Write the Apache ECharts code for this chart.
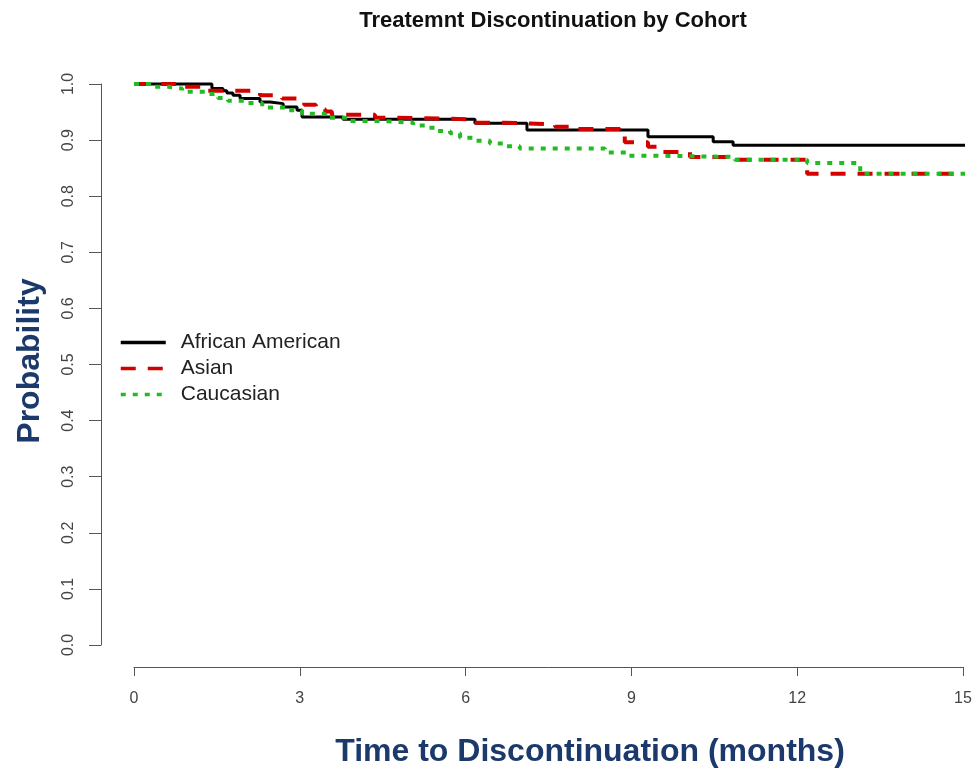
<!DOCTYPE html>
<html>
<head>
<meta charset="utf-8">
<script src="https://cdn.jsdelivr.net/npm/echarts@6/dist/echarts.min.js"></script>
<style>html,body{margin:0;padding:0;background:#fff}#c{width:977px;height:775px}</style>
</head>
<body>
<div id="c"></div>
<script>
// Data (time in months, survival probability)
var seriesNames = ['African American', 'Asian', 'Caucasian'];
var xTicks = [0, 3, 6, 9, 12, 15];
var yTicks = [0.0, 0.1, 0.2, 0.3, 0.4, 0.5, 0.6, 0.7, 0.8, 0.9, 1.0];

var aaTime = [0, 1.41, 1.61, 1.68, 1.79, 1.92, 2.28, 2.46, 2.70, 2.95, 3.04, 3.78, 6.17, 7.11, 9.30, 10.48, 10.84, 15.26];
var aaSurv = [1.0, 0.992, 0.988, 0.984, 0.980, 0.974, 0.968, 0.965, 0.959, 0.953, 0.941, 0.937, 0.930, 0.918, 0.906, 0.897, 0.891, 0.891];

var asTime = [0, 0.89, 1.28, 2.28, 2.68, 3.08, 3.29, 3.46, 3.58, 4.36, 4.72, 6.17, 6.71, 7.62, 7.98, 8.79, 8.88, 9.30, 9.55, 10.06, 10.87, 12.18, 15.26];
var asSurv = [1.0, 0.995, 0.988, 0.980, 0.974, 0.963, 0.955, 0.951, 0.945, 0.940, 0.937, 0.931, 0.928, 0.924, 0.920, 0.914, 0.896, 0.888, 0.879, 0.870, 0.865, 0.840, 0.840];

var caTime = [0, 0.38, 0.62, 0.87, 1.28, 1.52, 1.70, 2.06, 2.32, 2.77, 3.04, 3.46, 3.91, 4.45, 5.05, 5.27, 5.48, 5.72, 5.90, 6.17, 6.44, 6.71, 6.98, 8.52, 8.94, 9.61, 10.87, 12.18, 13.14, 15.26];
var caSurv = [1.0, 0.995, 0.992, 0.986, 0.982, 0.975, 0.970, 0.966, 0.958, 0.953, 0.947, 0.940, 0.934, 0.931, 0.926, 0.922, 0.916, 0.912, 0.904, 0.899, 0.894, 0.889, 0.885, 0.878, 0.872, 0.870, 0.865, 0.859, 0.840, 0.840];

function pairs(t, s) { return t.map(function (v, i) { return [v, s[i]]; }); }

var chart = echarts.init(document.getElementById('c'));
var font = 'Arial, "Liberation Sans", sans-serif';
var tickFont = '"Liberation Sans Narrow", "Arial Narrow", Arial, sans-serif';
var axisCol = '#555';
var navy = '#1b3a6b';

chart.setOption({
  backgroundColor: '#fff',
  animation: false,
  title: {
    text: 'Treatemnt Discontinuation by Cohort',
    left: 548, top: 5, textAlign: 'center',
    textStyle: { fontFamily: font, fontSize: 22, fontWeight: 'bold', color: '#111' }
  },
  legend: {
    orient: 'vertical', left: 114, top: 327,
    itemWidth: 45, itemHeight: 14, itemGap: 5,
    data: seriesNames,
    itemStyle: { opacity: 0 },
    lineStyle: { width: 3.5 },
    textStyle: { fontFamily: font, fontSize: 21, lineHeight: 21, color: '#222', padding: [0, 0, 0, 10] }
  },
  grid: [
    { left: 134, right: 14, top: 84, bottom: 130, containLabel: false },
    { left: 101, width: 1, top: 84, bottom: 130, containLabel: false },
    { left: 134, right: 14, top: 600, bottom: 108, containLabel: false }
  ],
  xAxis: [
    { gridIndex: 0, type: 'value', min: 0, max: 15, interval: 3, show: false },
    { gridIndex: 1, type: 'value', min: 0, max: 1, show: false },
    { gridIndex: 2, type: 'value', min: 0, max: 15, interval: 3, position: 'bottom',
      axisLine: { show: true, lineStyle: { color: axisCol, width: 1 } },
      axisTick: { show: true, length: 9, lineStyle: { color: axisCol } },
      splitLine: { show: false },
      axisLabel: { margin: 24, fontFamily: tickFont, fontSize: 16, color: '#444',
        formatter: function (v) { return xTicks.indexOf(v) >= 0 ? String(v) : ''; } } }
  ],
  yAxis: [
    { gridIndex: 0, type: 'value', min: 0, max: 1, interval: 0.1, show: false },
    { gridIndex: 1, type: 'value', min: 0, max: 1, interval: 0.1, position: 'left',
      axisLine: { show: true, lineStyle: { color: axisCol, width: 1 } },
      axisTick: { show: true, length: 12, lineStyle: { color: axisCol } },
      splitLine: { show: false },
      axisLabel: { margin: 24, rotate: 90, fontFamily: tickFont, fontSize: 16, color: '#444',
        formatter: function (v) { return yTicks[Math.round(v * 10)].toFixed(1); } } },
    { gridIndex: 2, type: 'value', min: 0, max: 1, show: false }
  ],
  graphic: [
    { type: 'text', x: 590, y: 752,
      style: { text: 'Time to Discontinuation (months)', font: 'bold 32px ' + font, fill: navy, align: 'center', verticalAlign: 'middle' } },
    { type: 'text', x: 30, y: 361, rotation: Math.PI / 2,
      style: { text: 'Probability', font: 'bold 32px ' + font, fill: navy, align: 'center', verticalAlign: 'middle' } }
  ],
  series: [
    { name: seriesNames[0], type: 'line', step: 'end', symbol: 'none', clip: false,
      xAxisIndex: 0, yAxisIndex: 0, data: pairs(aaTime, aaSurv), z: 3,
      lineStyle: { color: '#000', width: 3 }, itemStyle: { color: '#000' } },
    { name: seriesNames[1], type: 'line', step: 'end', symbol: 'none', clip: false,
      xAxisIndex: 0, yAxisIndex: 0, data: pairs(asTime, asSurv), z: 4,
      lineStyle: { color: '#d40000', width: 4, type: [15, 12] }, itemStyle: { color: '#d40000' } },
    { name: seriesNames[2], type: 'line', step: 'end', symbol: 'none', clip: false,
      xAxisIndex: 0, yAxisIndex: 0, data: pairs(caTime, caSurv), z: 5,
      lineStyle: { color: '#22bb22', width: 4, type: [5, 7] }, itemStyle: { color: '#22bb22' } }
  ]
});
</script>
</body>
</html>
